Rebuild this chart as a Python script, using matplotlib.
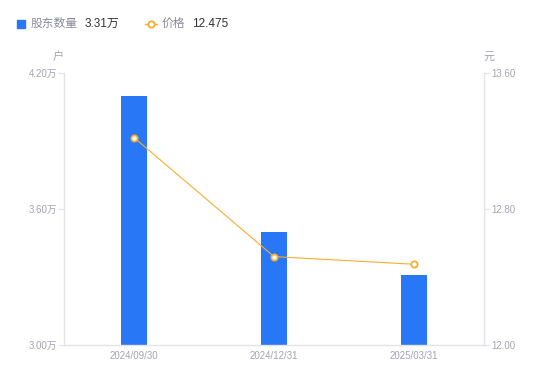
import matplotlib.pyplot as plt
from matplotlib.lines import Line2D
from matplotlib.patches import Rectangle

plt.rcParams['font.family'] = ['Liberation Sans', 'Noto Sans CJK SC', 'DejaVu Sans']

dates = ['2024/09/30', '2024/12/31', '2025/03/31']
holders = [4.10, 3.50, 3.31]        # 万户
price = [13.22, 12.52, 12.475]      # 元
left_ticks = [3.00, 3.60, 4.20]
right_ticks = [12.00, 12.80, 13.60]

blue = '#2777F6'
orange = '#F6AE2D'
axis_col = '#E3E3E8'
tick_col = '#A3A3B3'

fig = plt.figure(figsize=(5.5, 3.81), dpi=100)
ax = fig.add_axes([64/550, 1-345/381, 420/550, 272/381])
x = list(range(len(dates)))
ax.bar(x, holders, width=0.18, color=blue, zorder=2)
ax.set_xlim(-0.5, 2.5)
ax.set_ylim(left_ticks[0], left_ticks[-1])
ax.set_yticks(left_ticks)
ax.set_yticklabels([f'{v:.2f}万' for v in left_ticks])
ax.set_xticks(x)
ax.set_xticklabels(dates)

ax2 = ax.twinx()
ax2.plot(x, price, color=orange, lw=0.8, marker='o', ms=4.5,
         mfc='white', mec=orange, mew=1.3, zorder=3)
ax2.set_ylim(right_ticks[0], right_ticks[-1])
ax2.set_yticks(right_ticks)
ax2.set_yticklabels([f'{v:.2f}' for v in right_ticks])

for a in (ax, ax2):
    for s in a.spines.values():
        s.set_visible(False)
ax.spines['left'].set_visible(True)
ax.spines['bottom'].set_visible(True)
ax2.spines['right'].set_visible(True)
for s in (ax.spines['left'], ax.spines['bottom'], ax2.spines['right']):
    s.set_color(axis_col)
    s.set_linewidth(1)
ax.tick_params(axis='y', colors=axis_col, labelcolor=tick_col, labelsize=7, length=4, width=0.8, pad=1)
ax.tick_params(axis='x', length=0, labelcolor=tick_col, labelsize=7, pad=4)
ax2.tick_params(axis='y', colors=axis_col, labelcolor=tick_col, labelsize=7, length=4, width=0.8, pad=1)

fig.text(58/550, 1-57/381, '户', color=tick_col, fontsize=8, ha='center', va='center')
fig.text(489/550, 1-57/381, '元', color=tick_col, fontsize=8, ha='center', va='center')

# legend
ly = 1 - 24/381
fig.patches.append(Rectangle((17/550, 1-28/381), 8/550, 8/381, transform=fig.transFigure,
                             color=blue, figure=fig))
fig.text(31/550, ly, '股东数量', color='#8A8A99', fontsize=8.5, va='center')
fig.text(85/550, ly, f'{holders[-1]:.2f}万', color='#333333', fontsize=8.5, va='center')
fig.lines.append(Line2D([145/550, 157/550], [ly, ly], transform=fig.transFigure, color=orange,
                        lw=1, figure=fig))
fig.lines.append(Line2D([151/550], [ly], transform=fig.transFigure, color=orange, marker='o',
                        ms=4.5, mfc='white', mec=orange, mew=1.3, figure=fig))
fig.text(162/550, ly, '价格', color='#8A8A99', fontsize=8.5, va='center')
fig.text(192/550, ly, f'{price[-1]}', color='#333333', fontsize=8.5, va='center')

fig.savefig('out.png', dpi=100)
